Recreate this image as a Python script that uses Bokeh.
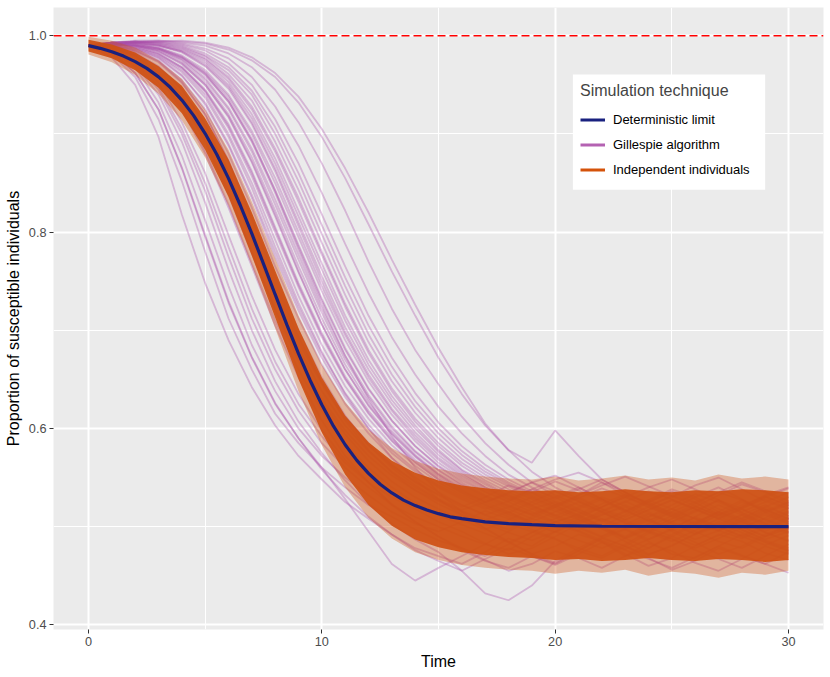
from bokeh.plotting import figure
from bokeh.models import (Range1d, FixedTicker, Span, Legend, LegendItem,
                          PrintfTickFormatter, BoxAnnotation)
from bokeh.embed import file_html
from bokeh.resources import INLINE

# ---------------- data ----------------
X_TICKS = [0, 10, 20, 30]
X_MINOR = [5, 15, 25]
Y_TICKS = [0.4, 0.6, 0.8, 1.0]
Y_MINOR = [0.5, 0.7, 0.9]

# deterministic limit
DET_T = [0, 0.5, 1, 1.5, 2, 2.5, 3, 3.5, 4, 4.5, 5, 5.5, 6, 6.5, 7, 7.5, 8, 8.5,
         9, 9.5, 10, 10.5, 11, 11.5, 12, 12.5, 13, 13.5, 14, 14.5, 15, 15.5, 16,
         17, 18, 19, 20, 22, 25, 30]
DET_S = [0.990, 0.9872, 0.9837, 0.9793, 0.9737, 0.9668, 0.9581, 0.9475, 0.9345,
         0.9189, 0.9004, 0.8790, 0.8547, 0.8276, 0.7984, 0.7677, 0.7365, 0.7057,
         0.6762, 0.6489, 0.6241, 0.6023, 0.5834, 0.5675, 0.5542, 0.5432, 0.5343,
         0.5270, 0.5214, 0.5170, 0.5132, 0.5100, 0.5081, 0.5049, 0.5030, 0.5020,
         0.5011, 0.5004, 0.5001, 0.5000]

# independent individuals: envelope of the many runs (dense core / faint edge)
BAND_T = list(range(0, 31))
CORE_LO = [0.984, 0.977, 0.965, 0.947, 0.921, 0.884, 0.836, 0.776, 0.713, 0.650,
           0.596, 0.553, 0.522, 0.501, 0.487, 0.479, 0.474, 0.471, 0.469, 0.468,
           0.466, 0.467, 0.465, 0.466, 0.468, 0.466, 0.465, 0.467, 0.466, 0.464, 0.466]
CORE_HI = [0.996, 0.991, 0.983, 0.969, 0.949, 0.916, 0.874, 0.820, 0.761, 0.702,
           0.652, 0.613, 0.586, 0.567, 0.555, 0.547, 0.542, 0.539, 0.537, 0.536,
           0.537, 0.535, 0.536, 0.538, 0.536, 0.535, 0.537, 0.536, 0.538, 0.537, 0.535]
OUT_LO = [0.981, 0.973, 0.960, 0.941, 0.914, 0.876, 0.827, 0.766, 0.702, 0.638,
          0.583, 0.540, 0.509, 0.488, 0.474, 0.466, 0.461, 0.458, 0.456, 0.455,
          0.452, 0.455, 0.453, 0.456, 0.450, 0.454, 0.452, 0.448, 0.453, 0.451, 0.455]
OUT_HI = [0.999, 0.995, 0.988, 0.975, 0.956, 0.925, 0.884, 0.831, 0.773, 0.715,
          0.665, 0.627, 0.599, 0.580, 0.567, 0.559, 0.554, 0.551, 0.549, 0.548,
          0.551, 0.547, 0.549, 0.552, 0.548, 0.550, 0.547, 0.553, 0.549, 0.551, 0.548]

# Gillespie runs, values at t = 0, 1, ..., 30
GIL_T = list(range(0, 31))
GIL_RUNS = [
    [.990,.978,.950,.897,.818,.748,.690,.642,.603,.572,.548,.525,.508,.492,.478,.470,.462,.474,.488,.480,.495,.507,.498,.485,.472,.480,.493,.505,.497,.486,.478],
    [.990,.981,.958,.915,.852,.780,.712,.660,.615,.585,.560,.540,.522,.510,.497,.486,.478,.470,.482,.494,.505,.512,.500,.490,.503,.515,.508,.496,.488,.499,.510],
    [.990,.984,.962,.925,.865,.795,.728,.672,.625,.590,.560,.528,.495,.462,.445,.458,.470,.482,.476,.490,.502,.495,.484,.470,.478,.492,.503,.515,.507,.494,.486],
    [.990,.985,.968,.932,.878,.812,.745,.685,.638,.600,.572,.550,.532,.515,.503,.495,.505,.516,.508,.497,.488,.475,.468,.480,.493,.505,.515,.527,.514,.502,.495],
    [.990,.986,.972,.945,.900,.842,.775,.712,.660,.618,.585,.560,.540,.522,.510,.500,.490,.482,.495,.508,.520,.512,.500,.488,.478,.490,.502,.496,.508,.518,.507],
    [.990,.987,.974,.948,.905,.850,.785,.722,.668,.625,.592,.565,.545,.530,.518,.505,.495,.483,.472,.478,.490,.503,.512,.520,.508,.495,.484,.472,.480,.492,.500],
    [.990,.987,.976,.952,.912,.860,.797,.735,.680,.635,.598,.568,.545,.522,.505,.490,.476,.465,.458,.470,.462,.475,.488,.497,.485,.472,.468,.480,.492,.485,.476],
    [.990,.988,.980,.962,.935,.895,.842,.780,.722,.672,.630,.598,.572,.552,.537,.526,.515,.505,.497,.510,.522,.530,.518,.507,.495,.508,.520,.512,.500,.490,.503],
    [.990,.989,.982,.968,.945,.910,.862,.803,.745,.692,.648,.612,.585,.563,.545,.532,.520,.530,.542,.535,.522,.510,.500,.512,.525,.536,.528,.515,.505,.495,.508],
    [.990,.990,.985,.975,.955,.925,.880,.825,.765,.712,.665,.625,.595,.570,.550,.535,.522,.512,.503,.495,.487,.478,.490,.502,.513,.505,.495,.485,.478,.490,.498],
    [.990,.991,.987,.978,.960,.930,.888,.835,.775,.720,.672,.632,.600,.575,.556,.540,.528,.518,.526,.538,.530,.518,.506,.497,.506,.518,.530,.540,.528,.515,.522],
    [.990,.991,.988,.980,.965,.940,.900,.850,.792,.735,.685,.643,.610,.583,.562,.545,.532,.522,.513,.505,.515,.525,.515,.503,.494,.485,.496,.508,.518,.507,.497],
    [.990,.992,.989,.982,.968,.945,.910,.862,.805,.748,.697,.653,.618,.590,.568,.550,.536,.525,.534,.545,.552,.540,.528,.515,.525,.535,.525,.512,.520,.532,.540],
    [.990,.992,.990,.984,.972,.950,.918,.872,.818,.760,.706,.660,.624,.595,.572,.553,.538,.526,.515,.505,.497,.508,.520,.530,.522,.510,.500,.512,.525,.517,.505],
    [.990,.991,.990,.986,.975,.955,.925,.882,.828,.772,.718,.670,.632,.600,.576,.557,.542,.530,.520,.512,.520,.532,.545,.535,.522,.530,.542,.550,.538,.526,.518],
    [.990,.992,.991,.987,.978,.962,.935,.895,.842,.785,.730,.680,.640,.608,.582,.562,.547,.535,.525,.515,.505,.496,.508,.498,.487,.497,.510,.522,.512,.500,.493],
    [.990,.993,.992,.988,.980,.965,.940,.903,.855,.800,.745,.695,.652,.618,.590,.568,.551,.538,.528,.518,.525,.515,.505,.515,.527,.538,.530,.518,.508,.520,.530],
    [.990,.993,.993,.990,.984,.970,.948,.912,.865,.810,.755,.703,.660,.625,.596,.573,.555,.540,.528,.538,.548,.555,.545,.532,.520,.510,.520,.532,.543,.535,.523],
    [.990,.992,.993,.991,.985,.974,.953,.920,.875,.822,.768,.715,.670,.633,.603,.578,.558,.545,.532,.522,.530,.540,.528,.517,.506,.498,.510,.500,.490,.502,.514],
    [.990,.993,.994,.992,.987,.977,.958,.928,.885,.835,.780,.727,.680,.641,.610,.585,.565,.550,.538,.528,.518,.510,.520,.532,.525,.513,.503,.515,.527,.518,.508],
    [.990,.992,.994,.993,.989,.980,.965,.940,.900,.852,.798,.745,.696,.655,.622,.595,.573,.556,.543,.532,.522,.512,.520,.530,.540,.548,.538,.527,.515,.525,.535],
    [.990,.993,.994,.994,.991,.985,.972,.950,.915,.870,.818,.765,.715,.672,.636,.606,.582,.563,.548,.536,.526,.517,.508,.500,.510,.522,.533,.525,.514,.504,.515],
    [.990,.993,.995,.995,.993,.990,.982,.968,.945,.912,.870,.822,.770,.722,.680,.645,.612,.585,.563,.545,.532,.522,.515,.525,.536,.528,.518,.508,.518,.530,.522],
    [.990,.992,.994,.995,.994,.992,.986,.975,.958,.932,.897,.855,.808,.760,.715,.672,.635,.603,.578,.556,.540,.528,.518,.510,.520,.532,.524,.513,.503,.514,.525],
    [.990,.991,.993,.994,.995,.993,.988,.978,.962,.938,.905,.865,.820,.772,.726,.682,.642,.605,.578,.565,.598,.572,.548,.535,.522,.512,.523,.535,.527,.515,.505],
    [.990,.992,.993,.994,.992,.987,.977,.958,.928,.888,.840,.788,.738,.693,.655,.622,.595,.572,.553,.540,.528,.538,.548,.535,.523,.512,.503,.515,.508,.497,.509],
    [.990,.988,.978,.958,.925,.880,.825,.765,.705,.652,.608,.572,.545,.523,.505,.490,.478,.466,.455,.462,.475,.468,.458,.470,.483,.475,.463,.455,.467,.480,.472],
    [.990,.990,.987,.979,.963,.937,.897,.845,.785,.728,.678,.635,.600,.570,.548,.528,.512,.498,.485,.472,.463,.476,.488,.480,.468,.456,.465,.478,.470,.462,.474],
    [.990,.986,.970,.940,.892,.830,.762,.700,.648,.607,.575,.547,.523,.503,.487,.474,.455,.432,.425,.440,.465,.478,.470,.482,.495,.488,.476,.467,.458,.470,.482],
    [.990,.992,.991,.987,.978,.961,.933,.892,.840,.782,.726,.674,.630,.592,.560,.535,.515,.498,.484,.472,.480,.492,.485,.472,.460,.468,.480,.492,.485,.473,.466],
    [.990,.989,.981,.965,.940,.902,.852,.792,.733,.682,.638,.603,.577,.556,.540,.527,.516,.507,.515,.503,.494,.505,.516,.526,.515,.503,.492,.500,.512,.522,.511],
    [.990,.990,.984,.973,.952,.920,.873,.815,.755,.700,.652,.613,.583,.560,.542,.528,.517,.525,.533,.522,.511,.500,.490,.498,.508,.497,.487,.496,.505,.514,.503],
    [.990,.991,.990,.985,.973,.952,.920,.876,.822,.765,.712,.665,.627,.597,.573,.554,.540,.528,.518,.508,.500,.510,.499,.489,.500,.511,.521,.510,.500,.490,.499],
    [.990,.993,.992,.990,.983,.969,.946,.910,.862,.806,.750,.698,.655,.620,.593,.570,.553,.540,.530,.520,.511,.520,.530,.521,.510,.518,.508,.497,.506,.516,.525],
    [.990,.989,.983,.969,.946,.908,.858,.798,.740,.688,.645,.610,.583,.562,.546,.533,.522,.512,.520,.530,.520,.508,.498,.488,.497,.508,.517,.508,.497,.487,.495],
    [.990,.990,.986,.977,.959,.932,.890,.838,.780,.724,.676,.636,.604,.578,.558,.542,.530,.520,.510,.500,.508,.518,.528,.517,.506,.496,.505,.514,.505,.494,.485],
    [.990,.991,.988,.981,.967,.943,.906,.857,.800,.744,.693,.650,.615,.587,.565,.548,.535,.524,.514,.525,.536,.526,.515,.504,.495,.505,.516,.527,.518,.507,.516],
    [.990,.992,.990,.986,.976,.957,.927,.885,.833,.777,.722,.674,.634,.602,.577,.558,.543,.531,.521,.512,.504,.513,.523,.533,.524,.514,.505,.496,.506,.517,.508],
    [.990,.993,.992,.988,.979,.963,.938,.900,.850,.795,.740,.690,.648,.614,.587,.565,.549,.536,.526,.535,.546,.537,.526,.516,.506,.515,.525,.535,.545,.536,.526],
    [.990,.992,.993,.990,.984,.972,.950,.916,.870,.816,.762,.710,.665,.629,.600,.576,.557,.543,.531,.521,.512,.503,.512,.522,.513,.503,.493,.502,.512,.503,.494],
    [.990,.993,.994,.992,.988,.979,.961,.934,.892,.843,.789,.736,.688,.648,.616,.590,.569,.553,.541,.530,.520,.529,.539,.530,.520,.511,.502,.512,.522,.531,.521],
    [.990,.993,.994,.993,.990,.982,.968,.944,.907,.860,.807,.754,.705,.663,.628,.600,.577,.559,.545,.534,.524,.515,.506,.516,.527,.518,.508,.499,.509,.520,.511],
    [.990,.988,.979,.959,.928,.883,.828,.768,.710,.660,.618,.585,.560,.540,.524,.512,.502,.493,.484,.494,.505,.496,.486,.477,.487,.498,.509,.500,.490,.481,.491],
    [.990,.988,.980,.962,.933,.892,.838,.778,.720,.669,.627,.594,.567,.546,.530,.518,.507,.497,.507,.518,.509,.499,.489,.480,.471,.481,.492,.503,.494,.484,.475],
    [.990,.990,.985,.974,.953,.920,.872,.812,.750,.694,.647,.608,.578,.555,.537,.523,.512,.503,.494,.486,.495,.505,.514,.505,.496,.487,.478,.488,.499,.508,.499],
    [.990,.992,.989,.982,.968,.944,.908,.860,.803,.746,.695,.651,.616,.588,.566,.548,.534,.522,.512,.503,.495,.486,.478,.488,.499,.490,.481,.491,.502,.512,.503],
    [.990,.992,.991,.987,.977,.960,.933,.893,.843,.787,.732,.682,.641,.608,.582,.561,.545,.532,.522,.513,.522,.532,.542,.551,.541,.531,.521,.511,.520,.530,.539],
    [.990,.983,.962,.925,.866,.797,.730,.673,.626,.590,.558,.532,.510,.492,.476,.465,.455,.467,.478,.470,.461,.472,.484,.476,.467,.458,.469,.480,.471,.462,.453],
    [.990,.993,.993,.991,.986,.976,.956,.925,.882,.831,.777,.724,.677,.638,.607,.582,.562,.547,.535,.525,.516,.507,.498,.507,.517,.527,.518,.508,.499,.509,.519],
    [.990,.991,.990,.984,.971,.950,.917,.871,.816,.759,.706,.660,.623,.594,.571,.552,.537,.525,.535,.545,.536,.526,.516,.507,.517,.527,.518,.509,.519,.528,.519],
]

LABELS = ["Deterministic limit", "Gillespie algorithm", "Independent individuals"]
LEGEND_TITLE = "Simulation technique"

# ---------------- styles ----------------
FONT = "Liberation Sans"
NAVY = "#19217F"
PURPLE = "#A94FA9"
PURPLE_KEY = "#B462B2"
ORANGE = "#CE5012"
ORANGE_KEY = "#D4520A"

p = figure(width=830, height=677, output_backend="svg", toolbar_location=None,
           x_range=Range1d(-1.5, 31.5), y_range=Range1d(0.3952, 1.0288),
           min_border_left=53, min_border_right=7, min_border_top=7,
           min_border_bottom=48,
           x_axis_label="Time", y_axis_label="Proportion of susceptible individuals")
p.background_fill_color = "#EBEBEB"
p.border_fill_color = "white"
p.outline_line_color = None

p.xaxis.ticker = FixedTicker(ticks=X_TICKS, minor_ticks=X_MINOR)
p.yaxis.ticker = FixedTicker(ticks=Y_TICKS, minor_ticks=Y_MINOR)
p.yaxis.formatter = PrintfTickFormatter(format="%.1f")
p.grid.grid_line_color = "white"
p.grid.grid_line_width = 2
p.grid.minor_grid_line_color = "white"
p.grid.minor_grid_line_width = 1

for ax in p.axis:
    ax.axis_line_color = None
    ax.major_tick_line_color = "#333333"
    ax.major_tick_out = 4
    ax.major_tick_in = 0
    ax.minor_tick_line_color = None
    ax.major_label_text_color = "#4D4D4D"
    ax.major_label_text_font = FONT
    ax.major_label_text_font_size = "12.7px"
    ax.major_label_standoff = 3
    ax.axis_label_text_font = FONT
    ax.axis_label_text_font_size = "16px"
    ax.axis_label_text_font_style = "normal"
    ax.axis_label_text_color = "black"
    ax.axis_label_standoff = 4

# Gillespie runs
p.multi_line(xs=[GIL_T] * len(GIL_RUNS), ys=GIL_RUNS, line_color=PURPLE,
             line_alpha=0.34, line_width=1.8)

# independent individuals
p.varea(x=BAND_T, y1=OUT_LO, y2=OUT_HI, fill_color=ORANGE, fill_alpha=0.35)
p.varea(x=BAND_T, y1=CORE_LO, y2=CORE_HI, fill_color=ORANGE, fill_alpha=0.92)

# deterministic
p.line(DET_T, DET_S, line_color=NAVY, line_width=3.2)

p.add_layout(Span(location=1.0, dimension="width", line_color="#FF0000",
                  line_dash="8 4", line_width=1.6))

# white legend panel (ggplot-style box, larger than Bokeh's tight legend box)
p.add_layout(BoxAnnotation(left=20.76, right=29.0, top=0.9606, bottom=0.8431,
                           fill_color="white", fill_alpha=1, line_color=None,
                           level="annotation"))

# legend keys (drawn outside the visible range; only their legend glyphs show)
k1 = p.line([-100, -99], [0, 0], line_color=NAVY, line_width=3)
k2 = p.line([-100, -99], [0, 0], line_color=PURPLE_KEY, line_width=3)
k3 = p.line([-100, -99], [0, 0], line_color=ORANGE_KEY, line_width=3)

legend = Legend(items=[LegendItem(label=LABELS[0], renderers=[k1]),
                       LegendItem(label=LABELS[1], renderers=[k2]),
                       LegendItem(label=LABELS[2], renderers=[k3])],
                location=(527, 447), title=LEGEND_TITLE)
legend.background_fill_color = "white"
legend.background_fill_alpha = 1
legend.border_line_color = None
legend.padding = 16
legend.margin = 0
legend.spacing = 0
legend.glyph_width = 25
legend.glyph_height = 25
legend.label_height = 25
legend.label_standoff = 8
legend.label_text_font = FONT
legend.label_text_font_size = "13px"
legend.label_text_color = "black"
legend.title_text_font = FONT
legend.title_text_font_size = "16px"
legend.title_text_font_style = "normal"
legend.title_standoff = 7
p.add_layout(legend)

open("out.html", "w").write(file_html(p, INLINE))
